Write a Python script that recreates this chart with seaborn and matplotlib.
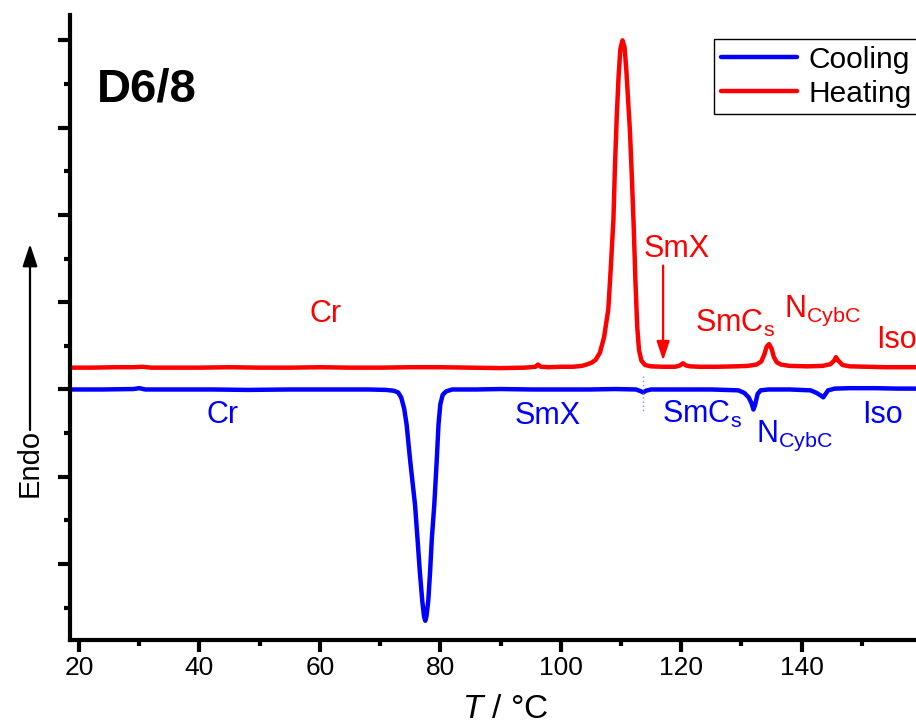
import matplotlib
matplotlib.use("Agg")
import matplotlib.pyplot as plt
import seaborn as sns
import pandas as pd

# ---------------- data ----------------
heat_T = [18.5, 22, 26, 29, 30.5, 32, 36, 40, 45, 50, 55, 60, 65, 70, 75, 80, 85, 90, 94,
          95.8, 96.2, 96.7, 98, 100, 102, 103.5, 104.5, 105.2, 105.8, 106.5, 107.2, 107.9,
          108.3, 108.75, 109.0, 109.3, 109.6, 109.9, 110.25, 110.6, 110.9, 111.2, 111.5,
          111.8, 112.1, 112.4, 112.7, 113.0, 113.4, 114.0, 115, 117, 119, 119.8, 120.3,
          120.8, 121.5, 123, 126, 129, 131, 132.5, 133.3, 133.8, 134.2, 134.6, 135.0, 135.4,
          135.9, 136.6, 138, 141, 143.5, 144.8, 145.4, 145.7, 146.1, 146.8, 148, 151, 154,
          157, 160]
heat_dsc = [0.25, 0.25, 0.255, 0.255, 0.26, 0.25, 0.25, 0.25, 0.255, 0.25, 0.25, 0.255, 0.25,
            0.25, 0.255, 0.255, 0.25, 0.245, 0.25, 0.26, 0.285, 0.26, 0.255, 0.26, 0.26, 0.27,
            0.29, 0.31, 0.34, 0.42, 0.60, 0.92, 1.38, 1.95, 2.55, 3.12, 3.58, 3.9, 4.0, 3.92,
            3.65, 3.3, 2.95, 2.45, 1.9, 1.25, 0.72, 0.45, 0.33, 0.28, 0.265, 0.26, 0.26, 0.275,
            0.30, 0.275, 0.265, 0.26, 0.26, 0.265, 0.27, 0.285, 0.32, 0.40, 0.49, 0.52, 0.47,
            0.37, 0.31, 0.285, 0.27, 0.265, 0.27, 0.29, 0.33, 0.37, 0.33, 0.28, 0.265, 0.26,
            0.255, 0.255, 0.255]

cool_T = [18.5, 24, 29, 30, 31, 36, 42, 48, 55, 62, 68, 71, 72.3, 73.0, 73.5, 74.0, 74.4,
          75.0, 75.8, 76.2, 76.6, 77.0, 77.3, 77.5, 77.7, 78.0, 78.3, 78.6, 79.0, 79.4, 79.7,
          80.0, 80.4, 81.0, 82, 86, 90, 95, 100, 105, 109, 112.5, 113.3, 113.7, 114.1, 115,
          120, 125, 129.5, 130.5, 131.2, 131.7, 132.0, 132.3, 132.7, 133.2, 134.5, 138, 141.5,
          142.5, 143.2, 143.6, 143.9, 144.4, 145.5, 148, 152, 156, 160]
cool_dsc = [0.0, 0.0, 0.005, 0.015, 0.0, 0.0, 0.0, -0.005, 0.0, 0.0, 0.0, -0.005, -0.015,
            -0.035, -0.09, -0.22, -0.4, -0.82, -1.32, -1.7, -2.09, -2.42, -2.6, -2.65, -2.6,
            -2.42, -2.09, -1.7, -1.32, -0.82, -0.4, -0.17, -0.06, -0.02, 0.0, 0.0, 0.005, 0.0,
            0.0, 0.0, 0.005, 0.0, -0.02, -0.035, -0.015, 0.0, 0.0, 0.0, -0.01, -0.04, -0.09,
            -0.16, -0.23, -0.17, -0.05, -0.01, 0.0, 0.0, -0.01, -0.04, -0.07, -0.09, -0.06,
            -0.01, 0.01, 0.015, 0.015, 0.01, 0.01]

x_ticks = [20, 40, 60, 80, 100, 120, 140]
x_minor = [30, 50, 70, 90, 110, 130, 150]
y_ticks = [-2, -1, 0, 1, 2, 3, 4]
y_minor = [-2.5, -1.5, -0.5, 0.5, 1.5, 2.5, 3.5]

heat_labels = ["Cr", "SmX", r"SmC$_\mathrm{s}$", r"N$_\mathrm{CybC}$", "Iso"]
heat_label_T = [60.9, 119.2, 129.0, 143.5, 155.8]
heat_label_y = [0.86, 1.61, 0.76, 0.90, 0.57]
cool_labels = ["Cr", "SmX", r"SmC$_\mathrm{s}$", r"N$_\mathrm{CybC}$", "Iso"]
cool_label_T = [43.8, 97.9, 123.5, 138.8, 153.4]
cool_label_y = [-0.29, -0.30, -0.29, -0.53, -0.29]

df = pd.concat([
    pd.DataFrame({"T": cool_T, "dsc": cool_dsc, "run": "Cooling"}),
    pd.DataFrame({"T": heat_T, "dsc": heat_dsc, "run": "Heating"}),
], ignore_index=True)

# ---------------- style ----------------
sns.set_style("ticks")
plt.rcParams["font.family"] = ["Liberation Sans", "DejaVu Sans"]
plt.rcParams["mathtext.fontset"] = "custom"
plt.rcParams["mathtext.rm"] = "Liberation Sans"
plt.rcParams["mathtext.it"] = "Liberation Sans:italic"
plt.rcParams["mathtext.bf"] = "Liberation Sans:bold"
plt.rcParams["text.color"] = "black"
plt.rcParams["xtick.labelcolor"] = "black"
plt.rcParams["ytick.labelcolor"] = "black"

W, H = 916, 727
fig = plt.figure(figsize=(W / 100, H / 100), dpi=100)
ax = fig.add_axes([70 / W, (H - 640) / H, (W - 70) / W, (640 - 15) / H])

sns.lineplot(data=df, x="T", y="dsc", hue="run", hue_order=["Cooling", "Heating"],
             palette={"Cooling": "#0000FF", "Heating": "#FF0000"}, sort=False,
             estimator=None, lw=3.2, ax=ax)

ax.set_xlim(18.5, 159.0)
ax.set_ylim(-2.87, 4.29)
ax.set_xticks(x_ticks)
ax.set_xticks(x_minor, minor=True)
ax.set_yticks(y_ticks)
ax.set_yticks(y_minor, minor=True)
ax.set_yticklabels([])
ax.tick_params(axis="both", which="major", direction="out", length=8.5, width=3,
               labelsize=19, pad=3, color="black", labelcolor="black")
ax.tick_params(axis="both", which="minor", direction="out", length=4.5, width=3,
               color="black")
for s in ["top", "right"]:
    ax.spines[s].set_visible(False)
for s in ["left", "bottom"]:
    ax.spines[s].set_linewidth(3)
    ax.spines[s].set_color("black")
ax.set_xlabel("")
ax.set_ylabel("")

# faint dotted artefact near 113.7
ax.plot([113.7, 113.7], [0.15, -0.25], ls=(0, (1, 2)), color="#8888ff", lw=1)

# annotations
for t, x, y in zip(heat_labels, heat_label_T, heat_label_y):
    ax.text(x, y, t, color="#FF0000", fontsize=22, ha="center", va="center")
for t, x, y in zip(cool_labels, cool_label_T, cool_label_y):
    ax.text(x, y, t, color="#0000FF", fontsize=22, ha="center", va="center")

ax.annotate("", xy=(117.0, 0.33), xytext=(117.0, 1.42),
            arrowprops=dict(arrowstyle="-|>,head_length=0.9,head_width=0.3",
                            mutation_scale=13, color="#FF0000", lw=1.6,
                            shrinkA=0, shrinkB=0))

# legend
handles, labels = ax.get_legend_handles_labels()
leg = ax.legend(handles, labels, loc="upper left", bbox_to_anchor=(714 / W, 1 - 39 / H),
                bbox_transform=fig.transFigure, borderaxespad=0, fontsize=21.5,
                frameon=True, fancybox=False, edgecolor="black", framealpha=1,
                handlelength=2.55, handletextpad=0.4, borderpad=0.22, labelspacing=0.2)
leg.get_frame().set_linewidth(1.0)
for t in leg.get_texts():
    t.set_color("black")

# figure texts
fig.text(147 / W, 1 - 89 / H, "D6/8", fontsize=34, fontweight="bold",
         ha="center", va="center", color="black")
fig.text(505 / W, 1 - 710 / H, r"$\it{T}$ / °C", fontsize=24, ha="center", va="center",
         color="black")
fig.text(30 / W, 1 - 463 / H, "Endo", fontsize=21, rotation=90, ha="center", va="center",
         color="black")
fig.patches.append(matplotlib.patches.FancyArrowPatch(
    (30 / W, 1 - 430 / H), (30 / W, 1 - 244 / H), transform=fig.transFigure,
    arrowstyle="-|>,head_length=0.9,head_width=0.3", mutation_scale=15,
    color="black", lw=1.6, shrinkA=0, shrinkB=0))

fig.savefig("out.png", dpi=100)
